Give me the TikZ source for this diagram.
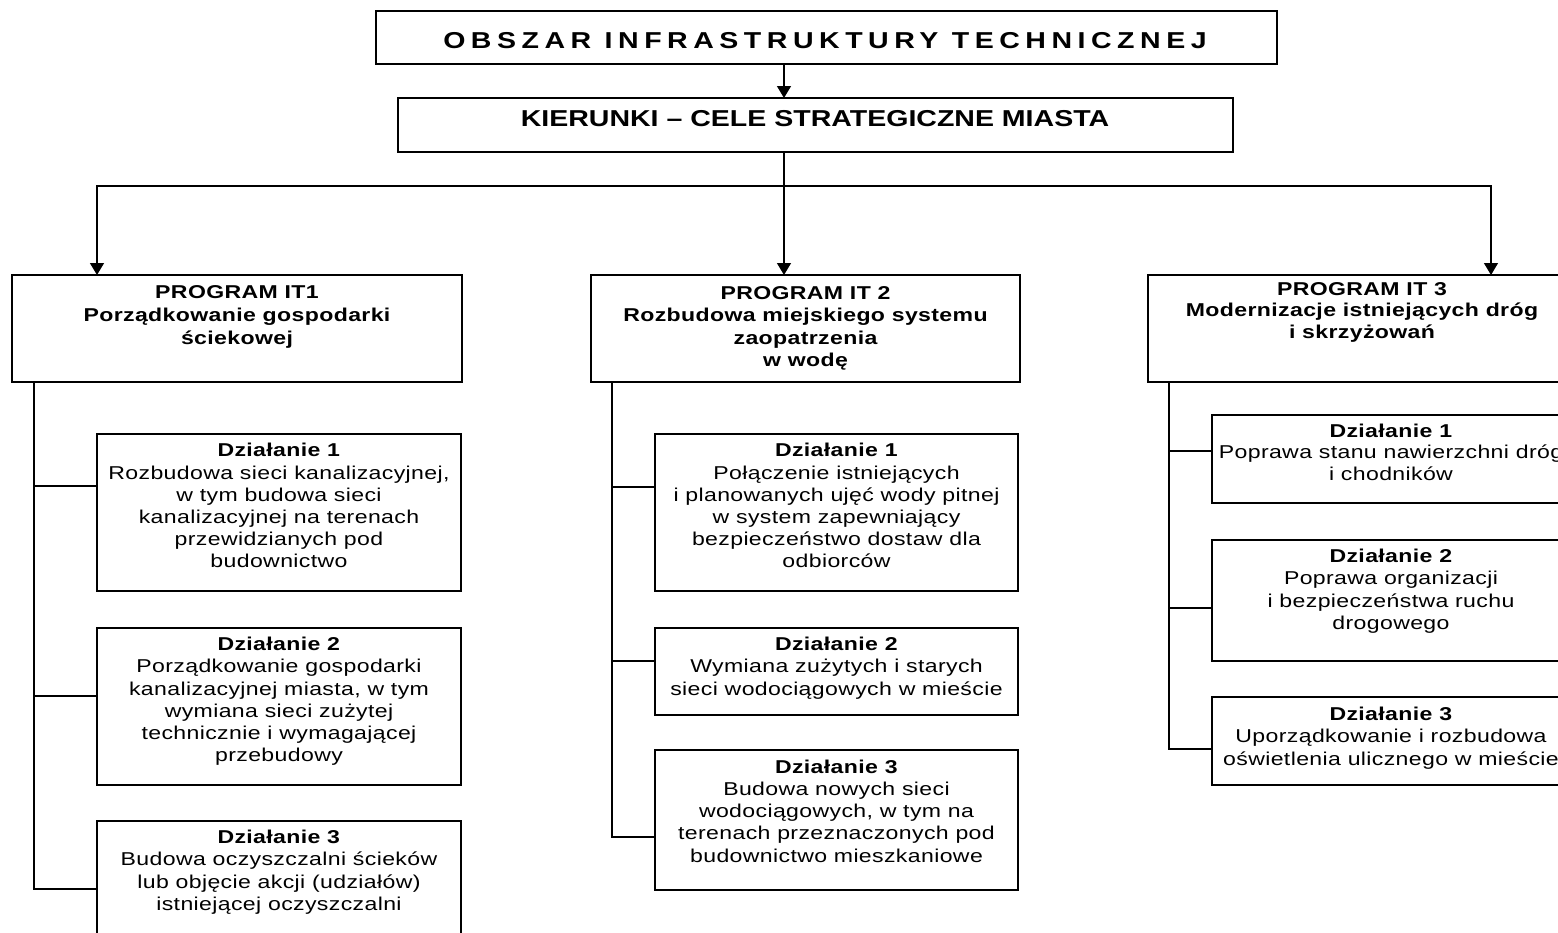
\documentclass[tikz,border=0pt]{standalone}
\usepackage{fontspec}
\setmainfont{Liberation Sans}[FakeStretch=1.24,LetterSpace=2]
\usetikzlibrary{arrows.meta}
\newcommand{\fst}{\rule{0pt}{16pt}}
\begin{document}
\begin{tikzpicture}[x=1pt,y=-1pt,
  box/.style={draw=black, line width=1.3pt, inner sep=0pt, outer sep=0pt, anchor=north west},
  ln/.style={draw=black, line width=1.3pt},
  arr/.style={ln, -{Triangle[length=12pt,width=14pt]}},
  tx/.style={align=center, inner sep=0pt, anchor=north, font=\fontsize{18.6}{22.2}\selectfont},
  big/.style={align=center, inner sep=0pt, anchor=base, font=\fontsize{23}{26}\selectfont\bfseries}]
\useasboundingbox (0,0) rectangle (1558,932);
\fill[white] (0,0) rectangle (1558,932);
\clip (0,0) rectangle (1558,932);

% top boxes
\node[box, minimum width=901pt, minimum height=53pt] (title) at (376,11) {};
\node[big] (titlet) at (825,48.3) {\addfontfeature{LetterSpace=24}OBSZAR INFRASTRUKTURY TECHNICZNEJ};
\node[box, minimum width=835pt, minimum height=54pt] (kier) at (398,98) {};
\node[big] (kiert) at (815,126.7) {\addfontfeature{LetterSpace=0}KIERUNKI – CELE STRATEGICZNE MIASTA};

% programs
\node[box, minimum width=450pt, minimum height=107pt] (p1) at (12,275) {};
\node[tx, font=\fontsize{18.6}{22.8}\selectfont\bfseries] (p1t) at (237,282.5) {\fst PROGRAM IT1\\Porządkowanie gospodarki\\ściekowej};
\node[box, minimum width=429pt, minimum height=107pt] (p2) at (591,275) {};
\node[tx, font=\fontsize{18.6}{22.5}\selectfont\bfseries] (p2t) at (805.5,283) {\fst PROGRAM IT 2\\Rozbudowa miejskiego systemu\\zaopatrzenia\\w wodę};
\node[box, minimum width=428pt, minimum height=107pt] (p3) at (1148,275) {};
\node[tx, font=\fontsize{18.6}{21.7}\selectfont\bfseries] (p3t) at (1362,279) {\fst PROGRAM IT 3\\Modernizacje istniejących dróg\\i skrzyżowań};

% P1 actions
\node[box, minimum width=364pt, minimum height=157pt] (d11) at (97,434) {};
\node[tx] (d11t) at (279,440.7) {\fst\textbf{Działanie 1}\\Rozbudowa sieci kanalizacyjnej,\\w tym budowa sieci\\kanalizacyjnej na terenach\\przewidzianych pod\\budownictwo};
\node[box, minimum width=364pt, minimum height=157pt] (d12) at (97,628) {};
\node[tx] (d12t) at (279,634.5) {\fst\textbf{Działanie 2}\\Porządkowanie gospodarki\\kanalizacyjnej miasta, w tym\\wymiana sieci zużytej\\technicznie i wymagającej\\przebudowy};
\node[box, minimum width=364pt, minimum height=160pt] (d13) at (97,821) {};
\node[tx] (d13t) at (279,827.5) {\fst\textbf{Działanie 3}\\Budowa oczyszczalni ścieków\\lub objęcie akcji (udziałów)\\istniejącej oczyszczalni};

% P2 actions
\node[box, minimum width=363pt, minimum height=157pt] (d21) at (655,434) {};
\node[tx] (d21t) at (836.5,440.7) {\fst\textbf{Działanie 1}\\Połączenie istniejących\\i planowanych ujęć wody pitnej\\w system zapewniający\\bezpieczeństwo dostaw dla\\odbiorców};
\node[box, minimum width=363pt, minimum height=87pt] (d22) at (655,628) {};
\node[tx] (d22t) at (836.5,634.5) {\fst\textbf{Działanie 2}\\Wymiana zużytych i starych\\sieci wodociągowych w mieście};
\node[box, minimum width=363pt, minimum height=140pt] (d23) at (655,750) {};
\node[tx] (d23t) at (836.5,757) {\fst\textbf{Działanie 3}\\Budowa nowych sieci\\wodociągowych, w tym na\\terenach przeznaczonych pod\\budownictwo mieszkaniowe};

% P3 actions
\node[box, minimum width=358pt, minimum height=88pt] (d31) at (1212,415) {};
\node[tx, font=\fontsize{18.6}{21.5}\selectfont] (d31t) at (1391,421) {\fst\textbf{Działanie 1}\\Poprawa stanu nawierzchni dróg\\i chodników};
\node[box, minimum width=358pt, minimum height=121pt] (d32) at (1212,540) {};
\node[tx] (d32t) at (1391,546.5) {\fst\textbf{Działanie 2}\\Poprawa organizacji\\i bezpieczeństwa ruchu\\drogowego};
\node[box, minimum width=358pt, minimum height=88pt] (d33) at (1212,697) {};
\node[tx] (d33t) at (1391,704.5) {\fst\textbf{Działanie 3}\\Uporządkowanie i rozbudowa\\oświetlenia ulicznego w mieście};

% connector coordinates
\coordinate (ax) at (784,0);
\coordinate (bus) at (784,186);
\coordinate (x1) at (97,0);
\coordinate (x3) at (1491,0);
\coordinate (t1) at (34,0);
\coordinate (t2) at (612,0);
\coordinate (t3) at (1169,0);
\coordinate (b11) at (97,486);
\coordinate (b12) at (97,696);
\coordinate (b13) at (97,889);
\coordinate (b21) at (655,487);
\coordinate (b22) at (655,661);
\coordinate (b23) at (655,837);
\coordinate (b31) at (1212,451);
\coordinate (b32) at (1212,608);
\coordinate (b33) at (1212,749);

% arrows
\draw[arr] (title.south -| ax) -- (kier.north -| ax);
\draw[arr] (kier.south -| ax) -- (p2.north -| ax);
\draw[arr] (bus) -| (p1.north -| x1);
\draw[arr] (bus) -| (p3.north -| x3);

% trunks
\draw[ln] (p1.south -| t1) |- (b13);
\draw[ln] (t1 |- b11) -- (b11);
\draw[ln] (t1 |- b12) -- (b12);
\draw[ln] (p2.south -| t2) |- (b23);
\draw[ln] (t2 |- b21) -- (b21);
\draw[ln] (t2 |- b22) -- (b22);
\draw[ln] (p3.south -| t3) |- (b33);
\draw[ln] (t3 |- b31) -- (b31);
\draw[ln] (t3 |- b32) -- (b32);
\end{tikzpicture}
\end{document}
